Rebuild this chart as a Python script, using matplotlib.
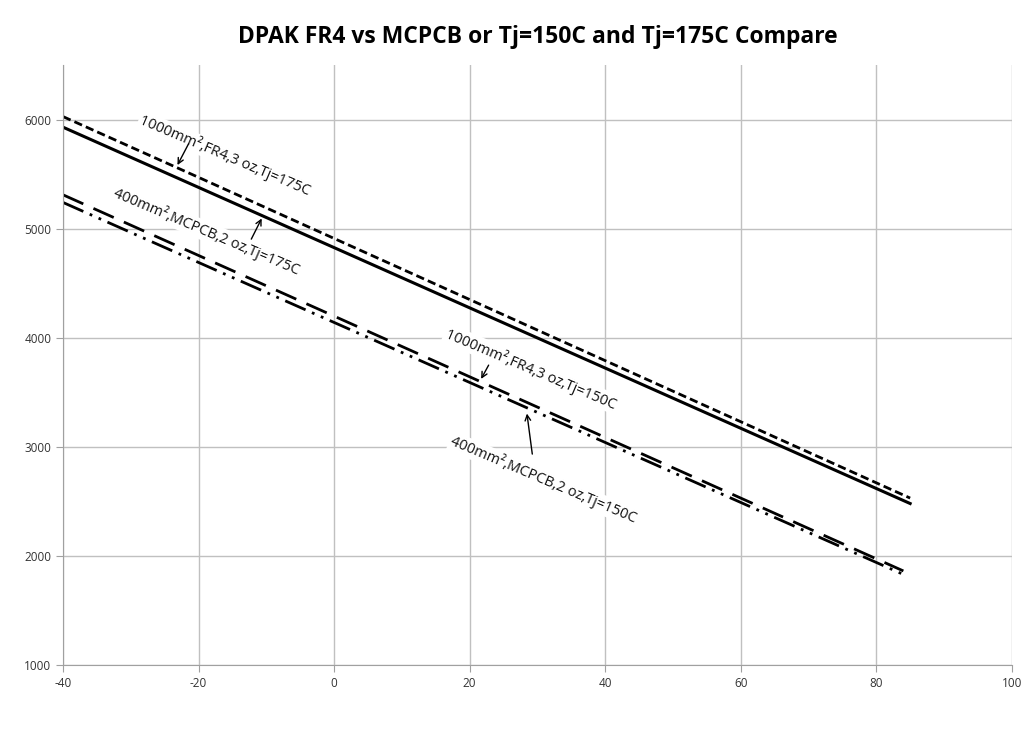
import numpy as np
import matplotlib.pyplot as plt

plt.rcParams['font.family'] = ['Open Sans', 'DejaVu Sans']
plt.rcParams['axes.unicode_minus'] = False

temp = [-40, -20, 0, 20, 40, 60, 85]
temp_150 = [-40, -20, 0, 20, 40, 60, 84]

fr4_175 = [6027, 5470, 4910, 4350, 3790, 3230, 2530]
mcpcb_175 = [5930, 5378, 4826, 4274, 3722, 3170, 2480]
fr4_150 = [5310, 4754, 4198, 3642, 3086, 2530, 1862]
mcpcb_150 = [5240, 4690, 4140, 3590, 3040, 2490, 1830]

labels = ['1000mm²,FR4,3 oz,Tj=175C', '400mm²,MCPCB,2 oz,Tj=175C',
          '1000mm²,FR4,3 oz,Tj=150C', '400mm²,MCPCB,2 oz,Tj=150C']

fig = plt.figure(figsize=(10.21, 7.47), dpi=100)
ax = fig.add_axes([0.0617, 0.1098, 0.9293, 0.8032])

ax.plot(temp, fr4_175, color='black', lw=2, ls=(0, (3, 1.5)))
ax.plot(temp, mcpcb_175, color='black', lw=2.2, ls='-')
ax.plot(temp_150, fr4_150, color='black', lw=2, ls=(0, (8, 4)))
ax.plot(temp_150, mcpcb_150, color='black', lw=2, ls=(0, (8, 2.5, 1, 2.5, 1, 2.5)))

ax.set_xlim(-40, 100)
ax.set_ylim(1000, 6500)
ax.set_xticks(np.arange(-40, 101, 20))
ax.set_yticks(np.arange(1000, 6001, 1000))
ax.grid(True, color='#c0c0c0', lw=1)
ax.set_axisbelow(True)
for s in ['top', 'right']:
    ax.spines[s].set_visible(False)
for s in ['left', 'bottom']:
    ax.spines[s].set_color('#a0a0a0')
ax.tick_params(colors='#a0a0a0', labelcolor='#333333', labelsize=8.5, length=5)

ax.set_title('DPAK FR4 vs MCPCB or Tj=150C and Tj=175C Compare',
             fontsize=16.5, fontweight='bold', pad=16)

# labels with arrows
text_pos = [(-16.1, 5670), (-18.8, 4972), (29.0, 3716), (30.9, 2697)]
arrow_tail = [(-21.3, 5798), (-12.4, 4881), (23.0, 3771), (29.3, 2908)]
arrow_head = [(-23.3, 5560), (-10.5, 5116), (21.5, 3600), (28.4, 3330)]
for lab, tp, tail, head in zip(labels, text_pos, arrow_tail, arrow_head):
    ax.text(tp[0], tp[1], lab, rotation=-23, rotation_mode='anchor',
            ha='center', va='center', fontsize=10.5, color='#111111',
            bbox=dict(facecolor='white', edgecolor='none', pad=1))
    ax.annotate('', xy=head, xytext=tail,
                arrowprops=dict(arrowstyle='->', color='black', lw=1))

fig.savefig('out.png', dpi=100)
